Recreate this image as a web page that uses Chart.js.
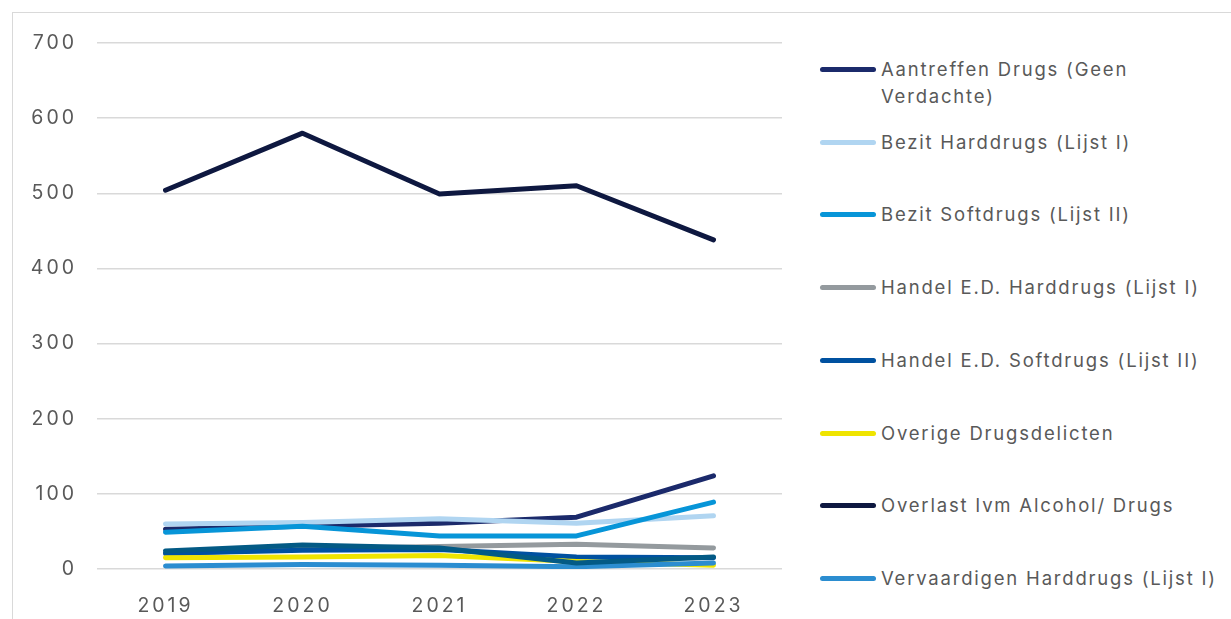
<!DOCTYPE html>
<html>
<head>
<meta charset="utf-8">
<script src="https://cdn.jsdelivr.net/npm/chart.js@4.4.0/dist/chart.umd.min.js"></script>
<style>
  html, body { margin: 0; padding: 0; background: #fff; overflow: hidden; }
  body { width: 1231px; height: 619px; position: relative; font-family: Inter, sans-serif; }
  #frame { position: absolute; left: 12px; top: 12px; width: 1300px; height: 700px; border: 1px solid #d9d9d9; }
  #wrap { position: absolute; left: 0; top: 0; width: 800px; height: 619px; }
  #legend { position: absolute; left: 820px; top: 0; width: 411px; }
  .item { position: absolute; left: 0; display: flex; align-items: flex-start; }
  .swatch { width: 56px; height: 5px; border-radius: 3px; margin-top: 11px; margin-right: 5px; flex: none; }
  .txt { width: 345px; font-size: 18.5px; letter-spacing: 1.8px; line-height: 27px; color: #595959; }
</style>
</head>
<body>
<div id="frame"></div>
<div id="wrap"><canvas id="myChart"></canvas></div>
<div id="legend"></div>
<script>
const years = ["2019", "2020", "2021", "2022", "2023"];

const aantreffen = [53, 57, 61, 69, 124];
const bezitHard = [60, 62, 67, 61, 71];
const bezitSoft = [49, 57, 44, 44, 89];
const handelHard = [20, 27, 30, 33, 28];
const handelSoft = [21, 25, 26, 16, 15];
const overige = [15, 16, 18, 10, 5];
const overlast = [504, 580, 499, 510, 438];
const vervaardigenHard = [4, 6, 5, 3, 8];
const vervaardigenSoft = [24, 32, 28, 8, 16];

const series = [
  { label: "Aantreffen Drugs (Geen Verdachte)", data: aantreffen, color: "#1b2a6b", legend: true },
  { label: "Bezit Harddrugs (Lijst I)", data: bezitHard, color: "#b0d5f1", legend: true },
  { label: "Bezit Softdrugs (Lijst II)", data: bezitSoft, color: "#0795d8", legend: true },
  { label: "Handel E.D. Harddrugs (Lijst I)", data: handelHard, color: "#949a9e", legend: true },
  { label: "Handel E.D. Softdrugs (Lijst II)", data: handelSoft, color: "#0051a0", legend: true },
  { label: "Overige Drugsdelicten", data: overige, color: "#efe400", legend: true },
  { label: "Overlast Ivm Alcohol/ Drugs", data: overlast, color: "#0e1840", legend: true },
  { label: "Vervaardigen Harddrugs (Lijst I)", data: vervaardigenHard, color: "#2b8dd0", legend: true },
  { label: "Vervaardigen Softdrugs (Lijst II)", data: vervaardigenSoft, color: "#035a85", legend: false },
];

const ctx = document.getElementById("myChart").getContext("2d");

// spaced out tick text like the original
const spacing = {
  id: "spacing",
  beforeDraw: (chart) => { chart.ctx.letterSpacing = "3px"; },
};

const tickFont = { family: "Inter", size: 19.5 };

const myChart = new Chart(ctx, {
  type: "line",
  data: {
    labels: years,
    datasets: series.map((s, i) => ({
      label: s.label,
      data: s.data,
      borderColor: s.color,
      backgroundColor: s.color,
      borderWidth: 5,
      borderCapStyle: "round",
      borderJoinStyle: "round",
      pointRadius: 0,
      tension: 0,
      order: series.length - i,
    })),
  },
  options: {
    responsive: true,
    maintainAspectRatio: false,
    animation: false,
    layout: { padding: { top: 43, right: 18, left: 0, bottom: 0 } },
    plugins: { legend: { display: false }, tooltip: { enabled: false } },
    scales: {
      x: {
        offset: true,
        grid: { display: false },
        border: { display: false },
        ticks: { color: "#595959", font: tickFont, padding: 17 },
        afterFit: (scale) => { scale.height = 50; },
      },
      y: {
        min: 0,
        max: 700,
        ticks: { stepSize: 100, color: "#595959", font: tickFont, padding: 20 },
        grid: { color: "#d9d9d9", lineWidth: 1.5, drawTicks: false },
        border: { display: false },
        afterFit: (scale) => { scale.width = 97; },
      },
    },
  },
  plugins: [spacing],
});

// legend built from the datasets, with wrapping text like the original
const legendBox = document.getElementById("legend");
series.filter((s) => s.legend).forEach((s, i) => {
  const row = document.createElement("div");
  row.className = "item";
  row.style.top = (56 + i * 72.7) + "px";
  row.innerHTML = '<span class="swatch" style="background:' + s.color + '"></span><span class="txt">' + s.label + "</span>";
  legendBox.appendChild(row);
});
</script>
</body>
</html>
